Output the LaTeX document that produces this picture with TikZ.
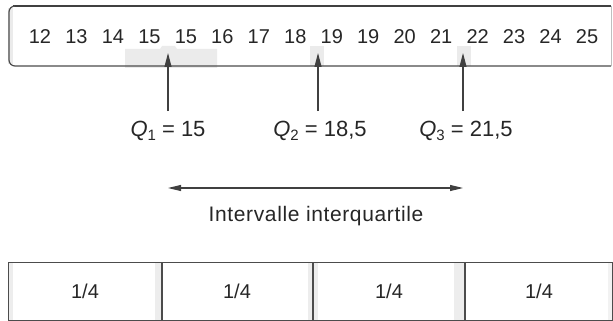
\documentclass[tikz,border=0pt]{standalone}
\usepackage{fontspec}
\setmainfont{Liberation Sans}
\usetikzlibrary{arrows.meta}
\tikzset{
  num/.style={font=\fontsize{20}{23}\selectfont, text=black!85, inner sep=0pt},
  qlabel/.style={font=\fontsize{22}{25}\selectfont, text=black!85, inner sep=0pt},
  qarrow/.style={draw=black!75, line width=1.1pt, -{Triangle[length=14pt,width=7pt]}},
  iqr/.style={draw=black!75, line width=1.1pt, {Triangle[length=13pt,width=6pt]}-{Triangle[length=13pt,width=6pt]}},
  patch/.style={fill=black!8, draw=none},
  frame/.style={draw=black!70, line width=1.2pt},
  quarter/.style={font=\fontsize{20}{23}\selectfont, text=black!85, inner sep=0pt}
}
\newcommand{\qsub}[2]{{\itshape #1}\raisebox{-0.35ex}{\fontsize{15}{17}\selectfont #2}}
\begin{document}
\begin{tikzpicture}[x=1pt,y=-1pt]
\useasboundingbox (0,0) rectangle (613,321);
% gray scan patches
\fill[patch] (125,49) -- (160,49) -- (162,46) -- (175,46) -- (177,49) -- (217,49) -- (217,68) -- (125,68) -- cycle;
\fill[patch] (310,46) rectangle (324,66);
\fill[patch] (457,46) rectangle (471,66);
% top box
\fill[black!8] (8,8) rectangle (13,64);
\draw[draw=black!75, line width=1.5pt] (13,6) -- (611,6);
\draw[frame, rounded corners=6pt] (14,6) -- (9,6) -- (9,66) -- (611,66);
\draw[draw=black!25, line width=1pt] (611,6) -- (611,66);
% numbers
\foreach \v [count=\i from 0] in {12,13,14,15,15,16,17,18,19,19,20,21,22,23,24,25}{
  \node[num] (n\i) at ({40+36.47*\i},37) {\v};
}
% quartile coordinates and labels
\coordinate (t1) at (168,53);
\coordinate (t2) at (318,53);
\coordinate (t3) at (463,53);
\coordinate (b1) at (168,111);
\coordinate (b2) at (318,111);
\coordinate (b3) at (463,111);
\draw[qarrow] (b1) -- (t1);
\draw[qarrow] (b2) -- (t2);
\draw[qarrow] (b3) -- (t3);
\node[qlabel] (q1) at (168,131) {\qsub{Q}{1} = 15};
\node[qlabel] (q2) at (320,131) {\qsub{Q}{2} = 18,5};
\node[qlabel] (q3) at (466,131) {\qsub{Q}{3} = 21,5};
% interquartile range
\coordinate (l) at (168,188);
\coordinate (r) at (463,188);
\draw[iqr] (l) -- (r);
\node[qlabel, font=\fontsize{21}{24}\selectfont\addfontfeature{LetterSpace=3}] (iq) at (316,216) {Intervalle interquartile};
% bottom boxes
\fill[black!7] (8,262) rectangle (13,320);
\fill[black!7] (155,262) rectangle (161,320);
\fill[black!7] (308,262) rectangle (318,320);
\fill[black!7] (454,262) rectangle (464,320);
\fill[black!5] (608,262) rectangle (613,320);
\draw[frame, line width=1pt] (8,262) rectangle (612,320);
\draw[frame, line width=1.2pt] (162,262) -- (162,320);
\draw[frame, line width=1.2pt] (313,262) -- (313,320);
\draw[frame, line width=1.2pt] (465,262) -- (465,320);
\node[quarter] (f1) at (85,291) {1/4};
\node[quarter] (f2) at (237,291) {1/4};
\node[quarter] (f3) at (389,291) {1/4};
\node[quarter] (f4) at (539,291) {1/4};
\end{tikzpicture}
\end{document}
